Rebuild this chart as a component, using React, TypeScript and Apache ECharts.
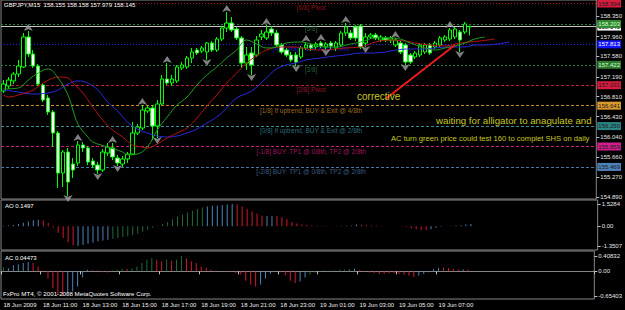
import React, { useEffect, useRef } from "react";
import * as echarts from "echarts";

// ---- price bars (GBPJPY M15, 18 Jun 09:00 -> 19 Jun 08:30) ----
const opens = [156.920,157.015,157.111,157.244,157.378,157.951,157.626,157.397,157.034,156.786,156.519,156.118,155.354,155.755,155.526,155.545,155.889,155.832,155.583,155.507,155.412,155.736,155.832,155.641,155.526,155.622,155.717,156.118,156.213,156.538,156.595,156.252,156.672,157.149,157.072,157.111,157.359,157.378,157.550,157.702,157.683,157.664,157.836,157.702,157.912,158.122,158.218,158.103,157.932,157.454,157.645,157.607,157.951,157.932,158.103,158.027,157.798,157.702,157.607,157.607,157.569,157.741,157.798,157.760,157.836,157.760,157.836,157.741,157.798,158.027,158.027,158.142,158.161,157.836,157.951,157.989,157.893,157.932,157.893,157.798,157.836,157.798,157.607,157.569,157.607,157.664,157.798,157.760,157.798,157.893,157.912,157.951,158.046,158.046,158.155];
const highs = [157.130,157.187,157.282,157.512,158.027,158.065,157.702,157.435,157.053,156.843,156.557,156.156,155.793,155.832,155.641,155.965,155.946,155.870,155.641,155.564,155.812,155.927,155.927,155.698,155.679,155.755,156.328,156.290,156.652,156.633,156.652,156.748,157.225,157.454,157.225,157.416,157.473,157.588,157.741,157.741,157.779,157.855,157.874,157.951,158.161,158.428,158.332,158.142,157.970,157.760,157.760,157.970,158.084,158.180,158.161,158.084,157.836,157.741,157.664,157.664,157.779,157.855,157.836,157.855,157.874,157.855,157.874,157.874,158.065,158.218,158.084,158.180,158.199,158.027,158.027,158.027,157.989,157.970,157.970,157.932,157.893,157.836,157.645,157.683,157.836,157.836,157.836,157.874,157.970,157.989,158.122,158.142,158.084,158.237,158.158];
const lows = [156.882,156.958,157.053,157.187,157.359,157.569,157.359,157.015,156.710,156.462,155.851,155.068,155.087,154.915,155.259,155.488,155.755,155.507,155.450,155.335,155.373,155.679,155.602,155.488,155.469,155.545,155.698,156.080,156.175,156.500,155.984,156.022,156.652,157.034,157.015,157.072,157.321,157.340,157.454,157.607,157.645,157.512,157.664,157.664,157.874,158.046,158.046,157.893,157.359,157.321,157.225,157.569,157.893,157.893,157.970,157.760,157.626,157.569,157.473,157.397,157.531,157.702,157.683,157.722,157.741,157.702,157.722,157.683,157.760,157.970,157.893,157.874,157.722,157.760,157.912,157.893,157.855,157.855,157.836,157.760,157.626,157.416,157.435,157.531,157.569,157.626,157.607,157.722,157.760,157.855,157.874,157.912,157.664,158.008,157.979];
const closes = [157.053,157.130,157.244,157.397,157.951,157.626,157.397,157.053,156.748,156.519,156.118,155.354,155.755,155.182,155.412,155.889,155.832,155.564,155.507,155.412,155.755,155.851,155.660,155.545,155.622,155.717,156.118,156.232,156.557,156.595,156.252,156.672,157.149,157.072,157.149,157.378,157.416,157.550,157.664,157.645,157.741,157.836,157.702,157.912,158.122,158.218,158.084,157.932,157.454,157.607,157.416,157.893,158.008,158.046,158.027,157.798,157.664,157.607,157.512,157.473,157.741,157.798,157.741,157.817,157.779,157.817,157.779,157.836,158.027,158.142,157.932,157.932,157.760,157.951,157.989,157.932,157.951,157.893,157.932,157.893,157.664,157.473,157.473,157.645,157.798,157.798,157.645,157.836,157.932,157.951,158.084,158.103,157.893,158.199,158.145];

// ---- Alligator (bar index, price), incl. forward shift ----
const jawIdx = [0,3,6,9,11,13,15,17,19,21,23,25,27,29,31,33,35,37,39,41,43,45,47,50,53,55,57,59,61,64,67,69,72,74,77,79,82,85,87,90,93,95,97,102];
const jawVal = [156.939,156.901,156.862,156.882,156.939,157.053,157.111,157.072,156.939,156.710,156.538,156.328,156.194,156.118,156.061,156.042,156.061,156.118,156.194,156.309,156.423,156.595,156.786,156.920,157.168,157.340,157.416,157.454,157.512,157.550,157.588,157.607,157.645,157.645,157.664,157.702,157.722,157.722,157.741,157.760,157.760,157.798,157.798,157.855];
const teethIdx = [0,1,3,6,8,10,11,13,14,16,18,20,22,24,26,28,29,31,33,35,37,39,41,43,45,47,49,51,53,56,59,61,64,67,69,72,75,78,81,83,86,89,92,96,99];
const teethVal = [156.843,156.805,156.843,156.939,157.072,157.168,157.187,157.168,157.072,156.882,156.614,156.366,156.175,156.042,155.889,155.851,155.832,155.908,156.022,156.118,156.213,156.404,156.633,156.843,157.072,157.263,157.454,157.588,157.702,157.760,157.760,157.722,157.702,157.722,157.741,157.760,157.855,157.893,157.874,157.836,157.798,157.779,157.836,157.874,157.912];
const lipsIdx = [0,3,5,7,9,11,13,14,15,17,18,21,24,25,27,29,31,33,35,37,39,41,43,45,47,49,51,53,55,57,60,62,65,67,70,72,75,78,80,82,85,87,89,91,93,95,97];
const lipsVal = [156.958,156.977,157.130,157.263,157.340,157.168,156.843,156.557,156.290,156.042,155.946,155.851,155.755,155.698,155.717,155.851,156.175,156.423,156.652,156.805,157.034,157.225,157.378,157.550,157.702,157.893,157.817,157.741,157.760,157.836,157.855,157.817,157.760,157.760,157.817,157.855,157.932,157.932,157.912,157.836,157.741,157.702,157.741,157.779,157.836,157.912,157.951];

// ---- fractals (bar indices) ----
const fractalUp = [5,15,22,28,33,45,53,61,64,69,79,90];
const fractalDown = [13,19,23,31,41,50,59,65,73,81,92];

// ---- Murrey math levels ----
const murreyLevels = [158.594,158.203,157.813,157.422,157.031,156.641,156.250,155.859,155.469];
const murreyNames = ["[6/8] Pivot","[5/8]","[4/8] Major S/R Pivot Point","[3/8]","[2/8] Pivot","[1/8] If uptrend, BUY & Exit @ 4/8th","[0/8] If uptrend, BUY & Exit @ 2/8th","[-1/8] BUY: TP1 @ 0/8th, TP2 @ 2/8th","[-2/8] BUY: TP1 @ 0/8th, TP2 @ 2/8th"];
const lastPrice = 158.145;

// ---- corrective trend line (bar index, price) ----
const trendIdx = [77,91];
const trendVal = [156.767,157.798];

// ---- AO / AC ----
const aoValues = [0.03,0.06,0.09,0.15,0.24,0.33,0.42,0.45,0.40,0.22,-0.08,-0.45,-0.80,-1.10,-1.30,-1.3507,-1.28,-1.20,-1.12,-1.05,-0.98,-0.92,-0.86,-0.80,-0.74,-0.68,-0.60,-0.50,-0.38,-0.24,-0.10,0.04,0.15,0.30,0.48,0.65,0.80,0.95,1.07,1.18,1.28,1.36,1.40,1.43,1.46,1.49,1.5284,1.50,1.35,1.18,1.02,0.88,0.72,0.70,0.72,0.70,0.62,0.48,0.30,0.20,0.12,0.10,0.06,0.04,0.03,0.02,0.02,0.02,0.03,0.05,0.07,0.12,0.10,0.08,0.06,0.04,0.02,0.01,0.01,0.01,-0.01,-0.05,-0.15,-0.20,-0.25,-0.25,-0.20,-0.10,-0.03,0.01,0.03,0.06,0.08,0.12,0.1497];
const aoCodes = ("bbbbbbbb"+"rrrrrrr"+"bbbbbbb"+"ggggggggggggggggggg"+"bbbbbb"+"rrrrrr"+"bb"+"rrrrrrrrrrrrr"+"ggg"+"b"+"rrrrrrrrrrrrrr"+"bbb"+"gg"+"bbbb").split("");
const acValues = [0.11,0.08,0.16,0.19,0.22,0.25,0.22,0.13,0.02,-0.19,-0.44,-0.62,-0.65403,-0.62,-0.53,-0.40,-0.16,0.04,0.03,0.02,-0.02,-0.03,0.02,0.04,0.07,0.06,0.08,0.13,0.22,0.31,0.35,0.31,0.27,0.31,0.28,0.31,0.40832,0.35,0.27,0.22,0.13,0.09,0.04,0.02,0.01,0.01,-0.01,-0.04,-0.08,-0.25,-0.35,-0.40,-0.35,-0.19,-0.06,0.02,-0.02,-0.10,-0.25,-0.31,-0.27,-0.16,-0.09,-0.03,0.01,0.02,0.02,0.03,0.04,0.05,0.06,0.07,0.03,-0.01,-0.03,-0.05,-0.07,-0.06,-0.05,-0.05,-0.07,-0.09,-0.11,-0.15,-0.11,-0.07,-0.02,0.06,0.09,0.10,0.09,0.06,0.05,0.05,0.04473];
const acCodes = ("g"+"bbbbb"+"rrrrrrr"+"bbbbb"+"rrrr"+"ggg"+"r"+"ggggg"+"rr"+"g"+"r"+"gg"+"rrrrrrrrrrrrrrr"+"bbb"+"g"+"rrrr"+"bb"+"ggggggggg"+"b"+"rrrrrrrrrrrr"+"bbbbb"+"rrrr"+"b"+"r").split("");

// ---- axis tick labels ----
const priceTicks = [158.350,157.960,157.580,157.190,156.810,156.430,156.040,155.660,155.270,154.890];
const aoTicks = [1.5284,0,-1.3507];
const acTicks = [0.40832,0,-0.65403];
const timeLabels = ["18 Jun 2009","18 Jun 11:00","18 Jun 13:00","18 Jun 15:00","18 Jun 17:00","18 Jun 19:00","18 Jun 21:00","18 Jun 23:00","19 Jun 01:00","19 Jun 03:00","19 Jun 05:00","19 Jun 07:00"];

const FONT = '"Liberation Sans", Arial, sans-serif';
const SLOTS = 120;

export default function App() {
  const ref = useRef<HTMLDivElement>(null);
  useEffect(() => {
    if (!ref.current) return;
    const chart = echarts.init(ref.current, undefined, { renderer: "svg" });
    const slots = Array.from({ length: SLOTS }, (_, i) => String(i));
    const candleData = opens.map((o, i) => [o, closes[i], lows[i], highs[i]]);
    const pairs = (xs: number[], ys: number[]) => xs.map((x, i) => [x, ys[i]]);
    const codeColor: Record<string, string> = { r: "#d21a2a", b: "#4a84b6", g: "#22683a" };

    const lineColors = ["#b51d26", "#2f7a4a", "#2424e6", "#2f7a4a", "#c01f3c", "#c4892a", "#3a8996", "#c81f7c", "#4a78a8"];
    const boxColors = ["#d81c3e", "#2f8a2f", "#1414ff", "#2f7a2f", "#d81c3e", "#d9982e", "#2a8585", "#d01f8c", "#4d82ba"];
    const boxText = ["#1a1a1a", "#d0ffd0", "#ffffff", "#d0ffd0", "#1a1a1a", "#1a1a1a", "#1a1a1a", "#1a1a1a", "#1a1a1a"];
    const lineTypes: any[] = [[1, 2], [2, 2], [1, 2], [2, 2], [3, 2], [3, 2], [3, 2], [3, 2], [3, 2]];

    const markData: any[] = [
      {
        yAxis: lastPrice,
        lineStyle: { color: "#c8c8c8", type: "solid", width: 1 },
        label: { show: true, position: "end", distance: 1, formatter: lastPrice.toFixed(3), backgroundColor: "#ffffff", color: "#000", fontSize: 6, padding: [1, 1], fontFamily: FONT },
      },
      ...murreyLevels.map((v, k) => ({
        yAxis: v,
        lineStyle: { color: lineColors[k], type: lineTypes[k], width: 1 },
        label: { show: true, position: "end", distance: 1, formatter: v.toFixed(3), backgroundColor: boxColors[k], color: boxText[k], fontSize: 6, padding: [1, 1], fontFamily: FONT },
      })),
    ];

    const gridBase = { show: true, borderColor: "#858585", borderWidth: 1, backgroundColor: "transparent", left: 1, width: 601 };
    const hiddenX = (g: number) => ({ type: "category", gridIndex: g, data: slots, boundaryGap: true, show: false });
    const yBase = (g: number, min: number, max: number, ticks: number[], fmt: (v: number) => string) => ({
      type: "value", gridIndex: g, position: "right", min, max, scale: true,
      splitLine: { show: false }, axisLine: { show: false },
      axisTick: { show: true, length: 3, customValues: ticks, lineStyle: { color: "#c0c0c0" } },
      axisLabel: { show: true, customValues: ticks, formatter: fmt, color: "#e8e8e8", fontSize: 6, margin: 4, fontFamily: FONT },
    });

    const textG = (x: number, y: number, text: string, size: number, fill: string) => ({
      type: "text", left: x, top: y, silent: true, z: 50,
      style: { text, fill, fontSize: size, fontFamily: FONT },
    });

    chart.setOption({
      animation: false,
      backgroundColor: "#000000",
      textStyle: { fontFamily: FONT },
      grid: [
        { ...gridBase, top: 0, height: 199 },
        { ...gridBase, top: 200, height: 50 },
        { ...gridBase, top: 251, height: 48 },
      ],
      xAxis: [
        hiddenX(0),
        hiddenX(1),
        {
          type: "category", gridIndex: 2, data: slots, boundaryGap: true,
          axisLine: { show: true, lineStyle: { color: "#858585" } },
          axisTick: { show: true, length: 3, interval: (i: number) => i % 8 === 0 && i / 8 < timeLabels.length, lineStyle: { color: "#c0c0c0" } },
          axisLabel: {
            show: true, interval: (i: number) => i % 8 === 0 && i / 8 < timeLabels.length,
            formatter: (_v: string, i: number) => (i % 8 === 0 ? timeLabels[i / 8] ?? "" : ""),
            align: "left", color: "#f0f0f0", fontSize: 6, margin: 3, fontFamily: FONT,
          },
          splitLine: { show: false },
        },
      ],
      yAxis: [
        yBase(0, 154.858, 158.657, priceTicks, (v) => v.toFixed(3)),
        yBase(1, -1.6244, 1.8026, aoTicks, (v) => (v === 0 ? "0.00" : v.toFixed(4))),
        yBase(2, -0.7338, 0.5411, acTicks, (v) => (v === 0 ? "0.00" : v.toFixed(5))),
      ],
      series: [
        {
          type: "scatter", name: "murrey", xAxisIndex: 0, yAxisIndex: 0, z: 1, symbolSize: 0, silent: true,
          data: murreyLevels.map((v, k) => ({
            value: [62, v],
            label: { show: true, position: "bottom", distance: 1, formatter: murreyNames[k], color: lineColors[k], fontSize: 6.5, fontFamily: FONT },
          })),
          markLine: { silent: true, symbol: ["none", "none"], z: 1, data: markData },
        },
        {
          type: "candlestick", name: "GBPJPY", xAxisIndex: 0, yAxisIndex: 0, z: 3, barWidth: 4,
          data: candleData,
          itemStyle: { color: "#000000", color0: "#ffffff", borderColor: "#00ff00", borderColor0: "#00ff00", borderWidth: 1 },
        },
        { type: "line", name: "jaw", xAxisIndex: 0, yAxisIndex: 0, z: 4, data: pairs(jawIdx, jawVal), symbol: "none", smooth: 0.4, lineStyle: { color: "#2a2ae0", width: 1 } },
        { type: "line", name: "teeth", xAxisIndex: 0, yAxisIndex: 0, z: 4, data: pairs(teethIdx, teethVal), symbol: "none", smooth: 0.4, lineStyle: { color: "#b81414", width: 1 } },
        { type: "line", name: "lips", xAxisIndex: 0, yAxisIndex: 0, z: 4, data: pairs(lipsIdx, lipsVal), symbol: "none", smooth: 0.4, lineStyle: { color: "#1fa01f", width: 1 } },
        {
          type: "scatter", name: "fractalUp", xAxisIndex: 0, yAxisIndex: 0, z: 5, symbol: "arrow", symbolSize: [7, 7], symbolOffset: [0, -7],
          itemStyle: { color: "#a0a0a0" }, data: fractalUp.map((i) => [i, highs[i]]), clip: false,
        },
        {
          type: "scatter", name: "fractalDown", xAxisIndex: 0, yAxisIndex: 0, z: 5, symbol: "arrow", symbolRotate: 180, symbolSize: [7, 7], symbolOffset: [0, 6],
          itemStyle: { color: "#a0a0a0" }, data: fractalDown.map((i) => [i, lows[i]]), clip: false,
        },
        { type: "line", name: "corrective", xAxisIndex: 0, yAxisIndex: 0, z: 6, data: pairs(trendIdx, trendVal), symbol: "none", lineStyle: { color: "#f01a1a", width: 2 } },
        {
          type: "bar", name: "AO", xAxisIndex: 1, yAxisIndex: 1, barWidth: 1,
          data: aoValues.map((v, i) => ({ value: v, itemStyle: { color: codeColor[aoCodes[i]] || "#4a84b6" } })),
        },
        {
          type: "bar", name: "AC", xAxisIndex: 2, yAxisIndex: 2, barWidth: 1,
          data: acValues.map((v, i) => ({ value: v, itemStyle: { color: codeColor[acCodes[i]] || "#d21a2a" } })),
        },
      ],
      graphic: [
        textG(4, 2, "GBPJPY,M15  158.155 158.158 157.979 158.145", 6, "#ffffff"),
        textG(5, 203, "AO 0.1497", 6, "#ffffff"),
        textG(5, 255, "AC 0.04473", 6, "#ffffff"),
        textG(3, 290, "FxPro MT4, \u00a9 2001-2008 MetaQuotes Software Corp.", 6.2, "#ffffff"),
        textG(357, 91, "corrective", 10, "#c8c822"),
        textG(436, 115, "waiting for alligator to anagulate and", 9.7, "#c8c822"),
        textG(391, 134, "AC turn green price could test 160 to complet SHS on daily", 7.6, "#c8c822"),
      ],
    });
    return () => chart.dispose();
  }, []);
  return <div ref={ref} style={{ position: "absolute", left: 0, top: 0, width: 625, height: 310, background: "#000" }} />;
}
